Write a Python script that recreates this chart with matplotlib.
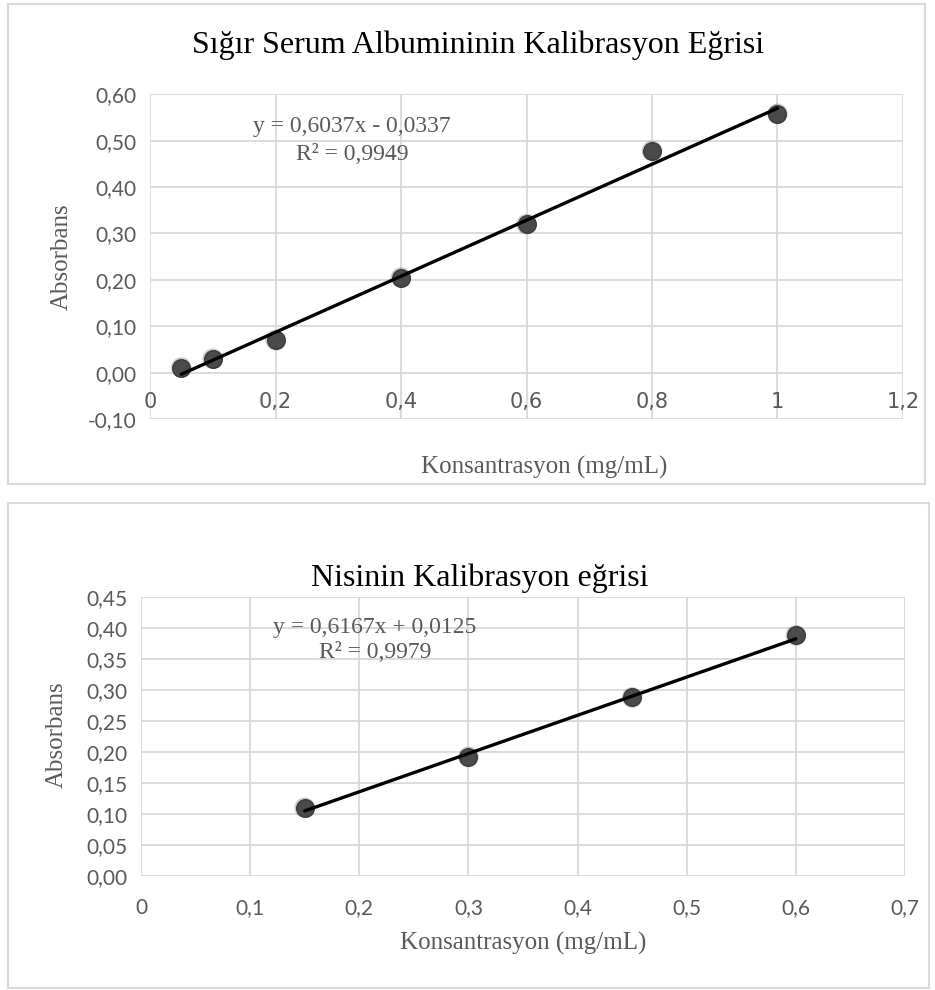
import matplotlib
matplotlib.use('Agg')
import matplotlib.pyplot as plt
from matplotlib.patches import Rectangle
from matplotlib.ticker import FuncFormatter

## BSA calibration data
bsa_conc = [0.05, 0.1, 0.2, 0.4, 0.6, 0.8, 1.0]
bsa_abs = [0.011, 0.030, 0.070, 0.205, 0.320, 0.478, 0.558]
bsa_slope, bsa_icpt = 0.6037, -0.0337
bsa_eq = ['y = 0,6037x - 0,0337', 'R² = 0,9949']

## nisin calibration data
nis_conc = [0.15, 0.30, 0.45, 0.60]
nis_abs = [0.110, 0.192, 0.288, 0.388]
nis_slope, nis_icpt = 0.6167, 0.0125
nis_eq = ['y = 0,6167x + 0,0125', 'R² = 0,9979']

W, H = 935.0, 990.0
grey = '#595959'
gridc = '#d9d9d9'
serif = 'Liberation Serif'
sans = 'Lato'

def comma(fmt):
    def f(v, pos):
        s = fmt % v
        if s == '-0': s = '0'
        return s.replace('.', ',')
    return FuncFormatter(f)

def xfmt(v, pos):
    s = ('%.1f' % v).rstrip('0').rstrip('.')
    return s.replace('.', ',')

def box(fig, x0, y0, x1, y1):
    fig.patches.append(Rectangle((x0 / W, 1 - y1 / H), (x1 - x0) / W, (y1 - y0) / H,
                                 transform=fig.transFigure, fill=False,
                                 edgecolor=gridc, linewidth=1.5))

def axes_px(fig, l, t, r, b):
    return fig.add_axes([l / W, 1 - b / H, (r - l) / W, (b - t) / H])

def style(ax, yfmt):
    for s in ax.spines.values():
        s.set_visible(False)
    ax.grid(True, color=gridc, linewidth=1.3)
    ax.set_axisbelow(True)
    ax.tick_params(length=0, labelsize=15, labelcolor=grey, pad=10)
    for lab in ax.get_xticklabels() + ax.get_yticklabels():
        lab.set_family(sans)
    ax.yaxis.set_major_formatter(comma(yfmt))
    ax.xaxis.set_major_formatter(FuncFormatter(xfmt))

def calib(ax, x, y, slope, icpt):
    ax.scatter(x, y, s=220, color='#5a5a5a', alpha=0.3, zorder=3,
               edgecolors='none', marker='o')
    ax.scatter(x, y, s=160, color='#4a4a4a', zorder=4, edgecolors='#3a3a3a')
    xs = [x[0], x[-1]]
    ys = [slope * v + icpt for v in xs]
    ax.plot(xs, ys, color='black', linewidth=2.4, zorder=5, solid_capstyle='round')

def eq(ax, x, ys, lines):
    for yy, t in zip(ys, lines):
        ax.text(x, yy, t, fontsize=17, family=serif, color=grey,
                ha='center', va='center', zorder=6)

fig = plt.figure(figsize=(W / 100, H / 100), dpi=100)

## top chart
box(fig, 8, 4, 925, 484)
ax1 = axes_px(fig, 150, 94.3, 903, 419)
ax1.set_xlim(0, 1.2)
ax1.set_ylim(-0.1, 0.6)
ax1.set_xticks([0, 0.2, 0.4, 0.6, 0.8, 1.0, 1.2])
ax1.set_yticks([-0.1, 0, 0.1, 0.2, 0.3, 0.4, 0.5, 0.6])
style(ax1, '%.2f')
ax1.spines['bottom'].set_position(('data', 0))
ax1.tick_params(axis='x', pad=14)
calib(ax1, bsa_conc, bsa_abs, bsa_slope, bsa_icpt)
eq(ax1, 0.322, [0.530, 0.470], bsa_eq)
fig.text(478 / W, 1 - 45 / H, 'Sığır Serum Albumininin Kalibrasyon Eğrisi',
         fontsize=23, family=serif, color='black', ha='center', va='center')
fig.text(544 / W, 1 - 467 / H, 'Konsantrasyon (mg/mL)', fontsize=18,
         family=serif, color=grey, ha='center', va='center')
fig.text(62 / W, 1 - 257 / H, 'Absorbans', fontsize=18, family=serif,
         color=grey, ha='center', va='center', rotation=90)

## bottom chart
box(fig, 8, 503, 929, 988)
ax2 = axes_px(fig, 141, 597, 905, 876)
ax2.set_xlim(0, 0.7)
ax2.set_ylim(0, 0.45)
ax2.set_xticks([0, 0.1, 0.2, 0.3, 0.4, 0.5, 0.6, 0.7])
ax2.set_yticks([0, 0.05, 0.1, 0.15, 0.2, 0.25, 0.3, 0.35, 0.4, 0.45])
style(ax2, '%.2f')
ax2.tick_params(axis='x', pad=16)
calib(ax2, nis_conc, nis_abs, nis_slope, nis_icpt)
eq(ax2, 0.2144, [0.4016, 0.3597], nis_eq)
fig.text(480 / W, 1 - 578 / H, 'Nisinin Kalibrasyon eğrisi',
         fontsize=23, family=serif, color='black', ha='center', va='center')
fig.text(523 / W, 1 - 943 / H, 'Konsantrasyon (mg/mL)', fontsize=18,
         family=serif, color=grey, ha='center', va='center')
fig.text(57 / W, 1 - 735 / H, 'Absorbans', fontsize=18, family=serif,
         color=grey, ha='center', va='center', rotation=90)

fig.savefig('out.png', dpi=100, facecolor='white')
